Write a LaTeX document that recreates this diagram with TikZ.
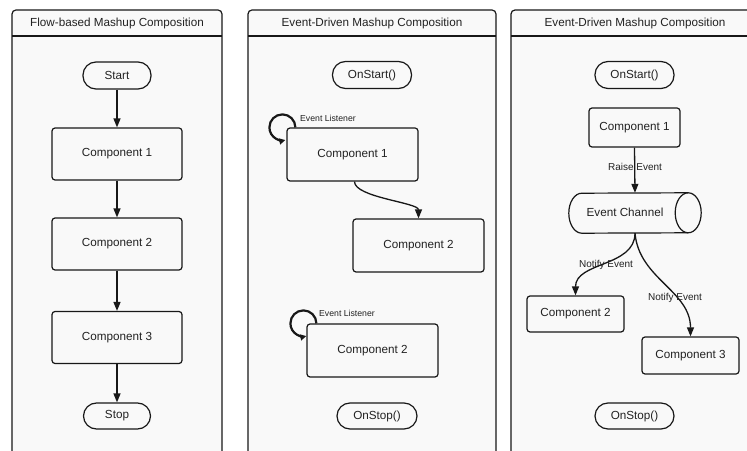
\documentclass[tikz,border=0pt]{standalone}
\usepackage{fontspec}
\setmainfont{Liberation Sans}
\usetikzlibrary{arrows.meta}
\definecolor{panelbg}{RGB}{249,249,249}
\definecolor{ink}{RGB}{24,24,24}
\definecolor{txt}{RGB}{34,34,34}
\tikzset{
  panel/.style={draw=ink, fill=panelbg, line width=1.2pt, rounded corners=4pt},
  sepline/.style={draw=ink, line width=1.2pt},
  title/.style={text=txt, font=\fontsize{11.7}{14}\selectfont, inner sep=0pt},
  box/.style={draw=ink, fill=panelbg, line width=1.2pt, rounded corners=3pt, text=txt,
    font=\fontsize{11.7}{14}\selectfont, inner sep=0pt},
  term/.style={draw=ink, fill=panelbg, line width=1.2pt, rounded corners=13pt, text=txt,
    font=\fontsize{11.7}{14}\selectfont, inner sep=0pt},
  flow/.style={draw=ink, line width=1.3pt, -{Triangle[length=9pt,width=7pt]}},
  loopst/.style={draw=ink, line width=2.2pt, -{Triangle[length=6pt,width=6pt]}},
  lbl/.style={text=txt, font=\fontsize{10}{12}\selectfont, inner sep=1pt},
  small/.style={text=txt, font=\fontsize{8.7}{10}\selectfont, inner sep=0pt},
}
\begin{document}
\begin{tikzpicture}[x=1pt,y=1pt]
\clip (0,0) rectangle (747,450);
\fill[white] (0,0) rectangle (747,450);

% panels
\path[panel] (12,-5) -- (12,440) -- (222,440) -- (222,-5);
\path[panel] (248,-5) -- (248,440) -- (496,440) -- (496,-5);
\path[panel] (511,-5) -- (511,440) -- (760,440) -- (760,-5);
\draw[sepline] (12,414) -- (222,414);
\draw[sepline] (248,414) -- (496,414);
\draw[sepline] (511,414) -- (760,414);
\node[title] (t1) at (117,427) {Flow-based Mashup Composition};
\node[title] (t2) at (372,427) {Event-Driven Mashup Composition};
\node[title] (t3) at (635,427) {Event-Driven Mashup Composition};

% left panel
\node[term, minimum width=68pt, minimum height=27pt] (start) at (117,374.5) {Start};
\node[box, minimum width=130pt, minimum height=52pt] (a1) at (117,296) {Component 1};
\node[box, minimum width=130pt, minimum height=52pt] (a2) at (117,206) {Component 2};
\node[box, minimum width=130pt, minimum height=52pt] (a3) at (117,112.5) {Component 3};
\node[term, minimum width=67pt, minimum height=26pt] (stop) at (117,34) {Stop};
\draw[flow] (start) -- (a1);
\draw[flow] (a1) -- (a2);
\draw[flow] (a2) -- (a3);
\draw[flow] (a3) -- (stop);

% middle panel
\node[term, minimum width=79pt, minimum height=27pt] (mstart) at (372,375) {OnStart()};
\node[box, minimum width=131pt, minimum height=53pt] (m1) at (352.5,295.5) {Component 1};
\node[box, minimum width=131pt, minimum height=53pt] (m2) at (418.5,204.5) {Component 2};
\node[box, minimum width=131pt, minimum height=53pt] (m3) at (372.5,99.5) {Component 2};
\node[term, minimum width=80pt, minimum height=26pt] (mstop) at (377,34) {OnStop()};
\draw[flow] ([xshift=2pt]m1.south) to[out=-90,in=90,looseness=0.55] (m2.north);
\draw[loopst] ([xshift=9pt]m1.north west) arc[start angle=0,end angle=283,radius=13pt];
\draw[loopst] ([xshift=10pt]m3.north west) arc[start angle=0,end angle=283,radius=13pt];
\node[small] (el1) at (328,332) {Event Listener};
\node[small] (el2) at (347,137) {Event Listener};

% right panel
\node[term, minimum width=79pt, minimum height=27pt] (rstart) at (634.5,375) {OnStart()};
\node[box, minimum width=91pt, minimum height=39pt] (r1) at (634.5,322.5) {Component 1};
\node[minimum width=132pt, minimum height=40pt, inner sep=0pt] (ch) at (635,237) {};
\draw[draw=ink, fill=panelbg, line width=1.2pt]
  ([xshift=13pt]ch.south west) arc[start angle=270,end angle=90,x radius=13pt,y radius=20pt]
  -- ([xshift=-13pt]ch.north east) arc[start angle=90,end angle=-90,x radius=13pt,y radius=20pt]
  -- cycle;
\draw[draw=ink, line width=1.2pt]
  ([xshift=-13pt]ch.north east) arc[start angle=90,end angle=270,x radius=13pt,y radius=20pt];
\node[title] (chl) at (625,238) {Event Channel};
\node[box, minimum width=97pt, minimum height=36pt] (r2) at (575.5,136) {Component 2};
\node[box, minimum width=97pt, minimum height=37pt] (r3) at (690.5,94.5) {Component 3};
\node[term, minimum width=79pt, minimum height=26pt] (rstop) at (634.5,34) {OnStop()};
\draw[flow] (r1.south) -- (ch.north);
\draw[flow] (ch.south) to[out=-90,in=90] (r2.north);
\draw[flow] (ch.south) to[out=-85,in=90] (r3.north);
\node[lbl] (re) at (635,283) {Raise Event};
\node[lbl] (n1) at (606,185) {Notify Event};
\node[lbl] (n2) at (675,152) {Notify Event};
\end{tikzpicture}
\end{document}
